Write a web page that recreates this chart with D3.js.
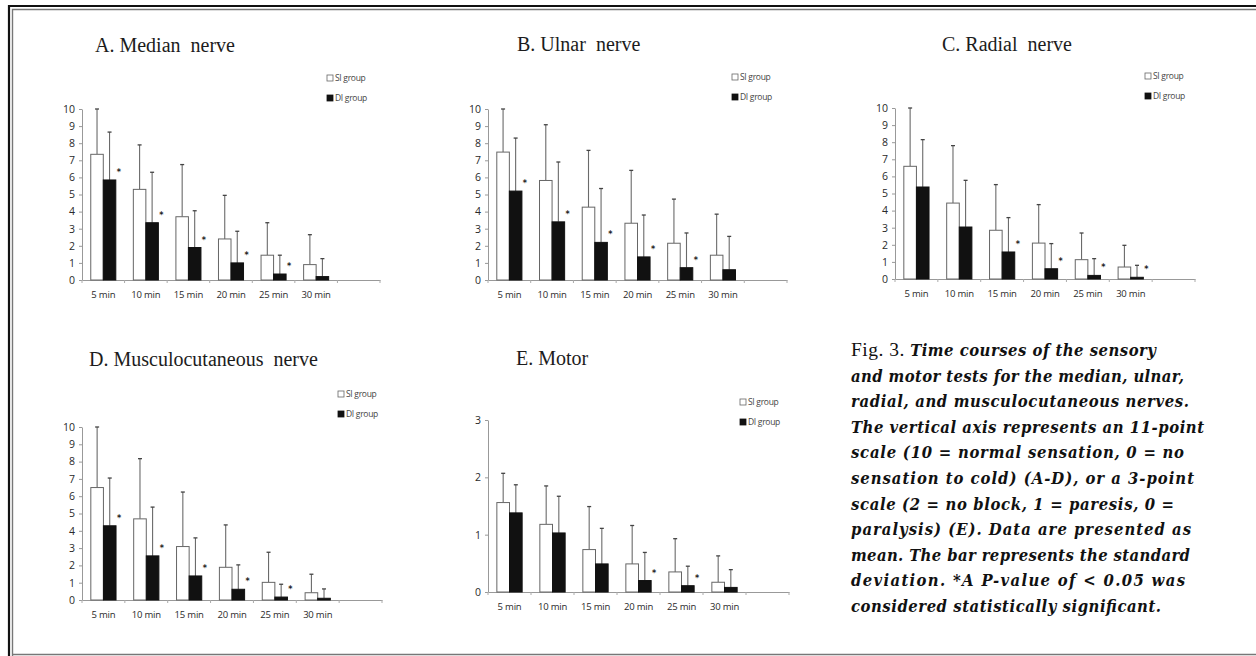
<!DOCTYPE html>
<html>
<head>
<meta charset="utf-8">
<script src="https://cdn.jsdelivr.net/npm/d3@7"></script>
<style>
  body { margin: 0; background: #fff; }
  svg { display: block; }
</style>
</head>
<body>
<script>
// time points on the x axis, plus one empty slot at the end like the original
const timePoints = ["5 min", "10 min", "15 min", "20 min", "25 min", "30 min"];
const groups = ["SI group", "DI group"];

// A. Median nerve
const medianSI = [7.35, 5.3, 3.7, 2.4, 1.45, 0.9];
const medianSIsd = [2.65, 2.6, 3.05, 2.55, 1.9, 1.75];
const medianDI = [5.85, 3.35, 1.9, 1.0, 0.35, 0.2];
const medianDIsd = [2.8, 2.95, 2.15, 1.85, 1.1, 1.05];
const medianSig = [true, true, true, true, true, false];

// B. Ulnar nerve
const ulnarSI = [7.48, 5.82, 4.26, 3.32, 2.15, 1.45];
const ulnarSIsd = [2.52, 3.26, 3.32, 3.09, 2.58, 2.4];
const ulnarDI = [5.2, 3.4, 2.2, 1.35, 0.72, 0.6];
const ulnarDIsd = [3.1, 3.5, 3.15, 2.45, 2.03, 1.95];
const ulnarSig = [true, true, true, true, true, false];

// C. Radial nerve
const radialSI = [6.59, 4.44, 2.85, 2.1, 1.13, 0.7];
const radialSIsd = [3.41, 3.36, 2.67, 2.25, 1.56, 1.27];
const radialDI = [5.38, 3.04, 1.58, 0.6, 0.21, 0.1];
const radialDIsd = [2.77, 2.73, 2.01, 1.47, 0.98, 0.7];
const radialSig = [false, false, true, true, true, true];

// D. Musculocutaneous nerve
const muscSI = [6.5, 4.69, 3.09, 1.89, 1.02, 0.42];
const muscSIsd = [3.5, 3.48, 3.15, 2.45, 1.74, 1.07];
const muscDI = [4.29, 2.55, 1.39, 0.62, 0.17, 0.1];
const muscDIsd = [2.76, 2.82, 2.2, 1.41, 0.74, 0.54];
const muscSig = [true, true, true, true, true, false];

// E. Motor
const motorSI = [1.56, 1.18, 0.74, 0.49, 0.35, 0.17];
const motorSIsd = [0.51, 0.67, 0.75, 0.67, 0.58, 0.46];
const motorDI = [1.38, 1.03, 0.49, 0.2, 0.11, 0.08];
const motorDIsd = [0.49, 0.64, 0.62, 0.49, 0.34, 0.31];
const motorSig = [false, false, false, true, true, false];

const sensoryTicks = [0, 1, 2, 3, 4, 5, 6, 7, 8, 9, 10];
const motorTicks = [0, 1, 2, 3];

const captionLines = [
  "Time courses of the sensory",
  "and motor tests for the median, ulnar,",
  "radial, and musculocutaneous nerves.",
  "The vertical axis represents an 11-point",
  "scale (10 = normal sensation, 0 = no",
  "sensation to cold) (A-D), or a 3-point",
  "scale (2 = no block, 1 = paresis, 0 =",
  "paralysis) (E). Data are presented as",
  "mean. The bar represents the standard",
  "deviation. *A P-value of < 0.05 was",
  "considered statistically significant."
];

// where each small chart sits on the page
const panels = [
  { title: "A. Median  nerve", si: medianSI, siSd: medianSIsd, di: medianDI, diSd: medianDIsd, sig: medianSig,
    ticks: sensoryTicks, left: 82, right: 380, top: 109, bottom: 280, tx: 95, ty: 52, lx: 327, ly: 78 },
  { title: "B. Ulnar  nerve", si: ulnarSI, siSd: ulnarSIsd, di: ulnarDI, diSd: ulnarDIsd, sig: ulnarSig,
    ticks: sensoryTicks, left: 488, right: 787, top: 109, bottom: 280, tx: 517, ty: 51, lx: 732, ly: 77 },
  { title: "C. Radial  nerve", si: radialSI, siSd: radialSIsd, di: radialDI, diSd: radialDIsd, sig: radialSig,
    ticks: sensoryTicks, left: 895, right: 1195, top: 108, bottom: 279, tx: 942, ty: 51, lx: 1145, ly: 76 },
  { title: "D. Musculocutaneous  nerve", si: muscSI, siSd: muscSIsd, di: muscDI, diSd: muscDIsd, sig: muscSig,
    ticks: sensoryTicks, left: 82, right: 382, top: 427, bottom: 600, tx: 89, ty: 366, lx: 338, ly: 394 },
  { title: "E. Motor", si: motorSI, siSd: motorSIsd, di: motorDI, diSd: motorDIsd, sig: motorSig,
    ticks: motorTicks, left: 488, right: 789, top: 420, bottom: 592, tx: 516, ty: 365, lx: 740, ly: 402 }
];

const svg = d3.select("body").append("svg")
  .attr("width", 1256)
  .attr("height", 656);

// frame lines of the scanned page
svg.append("path")
  .attr("d", "M9,656 V6 H1256")
  .attr("fill", "none")
  .attr("stroke", "#111")
  .attr("stroke-width", 2.2);
svg.append("path")
  .attr("d", "M12.5,656 V9.5 H1256 M12.5,654.5 H1256")
  .attr("fill", "none")
  .attr("stroke", "#777")
  .attr("stroke-width", 1.4);

function drawPanel(p) {
  const g = svg.append("g");

  let x0 = d3.scaleBand()
    .domain([...timePoints, ""])
    .range([p.left, p.right])
    .padding(0);
  let x1 = d3.scaleBand()
    .domain(groups)
    .range([0, x0.bandwidth()])
    .paddingInner(0)
    .paddingOuter(0.7);
  let y = d3.scaleLinear()
    .domain([0, d3.max(p.ticks)])
    .range([p.bottom, p.top]);

  g.append("text")
    .attr("x", p.tx)
    .attr("y", p.ty)
    .attr("font-family", "'Liberation Serif', 'Times New Roman', serif")
    .attr("font-size", 20)
    .attr("fill", "#1c1c1c")
    .style("white-space", "pre")
    .text(p.title);

  // y axis
  let yAxis = g.append("g")
    .attr("transform", "translate(" + p.left + ",0)")
    .call(d3.axisLeft(y).tickValues(p.ticks).tickFormat(d3.format("d"))
      .tickSize(3).tickSizeOuter(0).tickPadding(4));
  yAxis.select(".domain").attr("stroke", "#999");
  yAxis.selectAll(".tick line").attr("stroke", "#999");
  yAxis.selectAll("text")
    .attr("font-family", "'Open Sans', sans-serif")
    .attr("font-size", 10.5)
    .attr("fill", "#2a2a2a");

  // x axis: labels at centres, ticks at the category edges
  let xAxis = g.append("g")
    .attr("transform", "translate(0," + p.bottom + ")")
    .call(d3.axisBottom(x0).tickSize(0).tickPadding(11));
  xAxis.select(".domain").attr("stroke", "#999");
  xAxis.selectAll("text")
    .attr("font-family", "'Open Sans', sans-serif")
    .attr("font-size", 9.5)
    .attr("letter-spacing", -0.2)
    .attr("fill", "#2a2a2a");
  let edges = x0.domain().map(d => x0(d)).concat([x0.range()[1]]);
  g.selectAll(".edge")
    .data(edges)
    .join("line")
    .attr("x1", d => d)
    .attr("x2", d => d)
    .attr("y1", p.bottom)
    .attr("y2", p.bottom + 3)
    .attr("stroke", "#aaa");

  let rows = [];
  timePoints.forEach(function(t, i) {
    rows.push({ t: t, group: "SI group", mean: p.si[i], sd: p.siSd[i] });
    rows.push({ t: t, group: "DI group", mean: p.di[i], sd: p.diSd[i] });
  });

  // error bars first, so the bars cover the lower part
  g.selectAll(".err")
    .data(rows)
    .join("line")
    .attr("x1", d => x0(d.t) + x1(d.group) + x1.bandwidth() / 2)
    .attr("x2", d => x0(d.t) + x1(d.group) + x1.bandwidth() / 2)
    .attr("y1", d => y(d.mean))
    .attr("y2", d => y(d.mean + d.sd))
    .attr("stroke", "#6a6a6a")
    .attr("stroke-width", 1.1);
  g.selectAll(".cap")
    .data(rows)
    .join("line")
    .attr("x1", d => x0(d.t) + x1(d.group) + x1.bandwidth() / 2 - 2)
    .attr("x2", d => x0(d.t) + x1(d.group) + x1.bandwidth() / 2 + 2)
    .attr("y1", d => y(d.mean + d.sd))
    .attr("y2", d => y(d.mean + d.sd))
    .attr("stroke", "#444")
    .attr("stroke-width", 1.3);

  g.selectAll(".bar")
    .data(rows)
    .join("rect")
    .attr("x", d => x0(d.t) + x1(d.group))
    .attr("y", d => y(d.mean))
    .attr("width", x1.bandwidth())
    .attr("height", d => y(0) - y(d.mean))
    .attr("fill", d => d.group == "SI group" ? "#fff" : "#111")
    .attr("stroke", d => d.group == "SI group" ? "#666" : "#111")
    .attr("stroke-width", 1);

  // significance marks beside the DI bars
  let stars = rows.filter(d => d.group == "DI group" && p.sig[timePoints.indexOf(d.t)]);
  g.selectAll(".star")
    .data(stars)
    .join("text")
    .attr("x", d => x0(d.t) + x1(d.group) + x1.bandwidth() + 3)
    .attr("y", d => y(d.mean) - 5)
    .attr("text-anchor", "middle")
    .attr("font-family", "'DejaVu Sans', sans-serif")
    .attr("font-size", 8)
    .attr("font-weight", "bold")
    .attr("fill", "#222")
    .text("*");

  // legend
  let legend = g.selectAll(".leg")
    .data(groups)
    .join("g")
    .attr("transform", (d, i) => "translate(" + p.lx + "," + (p.ly + i * 20) + ")");
  legend.append("rect")
    .attr("x", 0)
    .attr("y", -3)
    .attr("width", 6)
    .attr("height", 6)
    .attr("fill", d => d == "SI group" ? "#fff" : "#111")
    .attr("stroke", d => d == "SI group" ? "#666" : "#111")
    .attr("stroke-width", 0.8);
  legend.append("text")
    .attr("x", 8)
    .attr("y", 3)
    .attr("font-family", "'Open Sans', sans-serif")
    .attr("font-size", 8.5)
    .attr("letter-spacing", -0.3)
    .attr("fill", "#444")
    .text(d => d);
}

panels.forEach(drawPanel);

// caption to the right of panel E
const captionWidths = [305, 333, 338, 353, 333, 343, 323, 340, 339, 334, 310];
const cap = svg.append("g")
  .attr("font-family", "'DejaVu Serif', serif")
  .attr("font-size", 16.5)
  .attr("fill", "#111");
captionLines.forEach(function(line, i) {
  let t = cap.append("text")
    .attr("x", 851)
    .attr("y", 356 + i * 25.6);
  if (i == 0) {
    t.append("tspan")
      .attr("font-family", "'Liberation Serif', serif")
      .attr("font-size", 19.5)
      .text("Fig. 3. ");
  }
  t.append("tspan")
    .attr("font-style", "italic")
    .attr("font-weight", "bold")
    .attr("font-stretch", "condensed")
    .text(line);
  let w = t.node().getComputedTextLength();
  if (Math.abs(w - captionWidths[i]) > 2) {
    t.attr("textLength", captionWidths[i]).attr("lengthAdjust", "spacing");
  }
});
</script>
</body>
</html>
